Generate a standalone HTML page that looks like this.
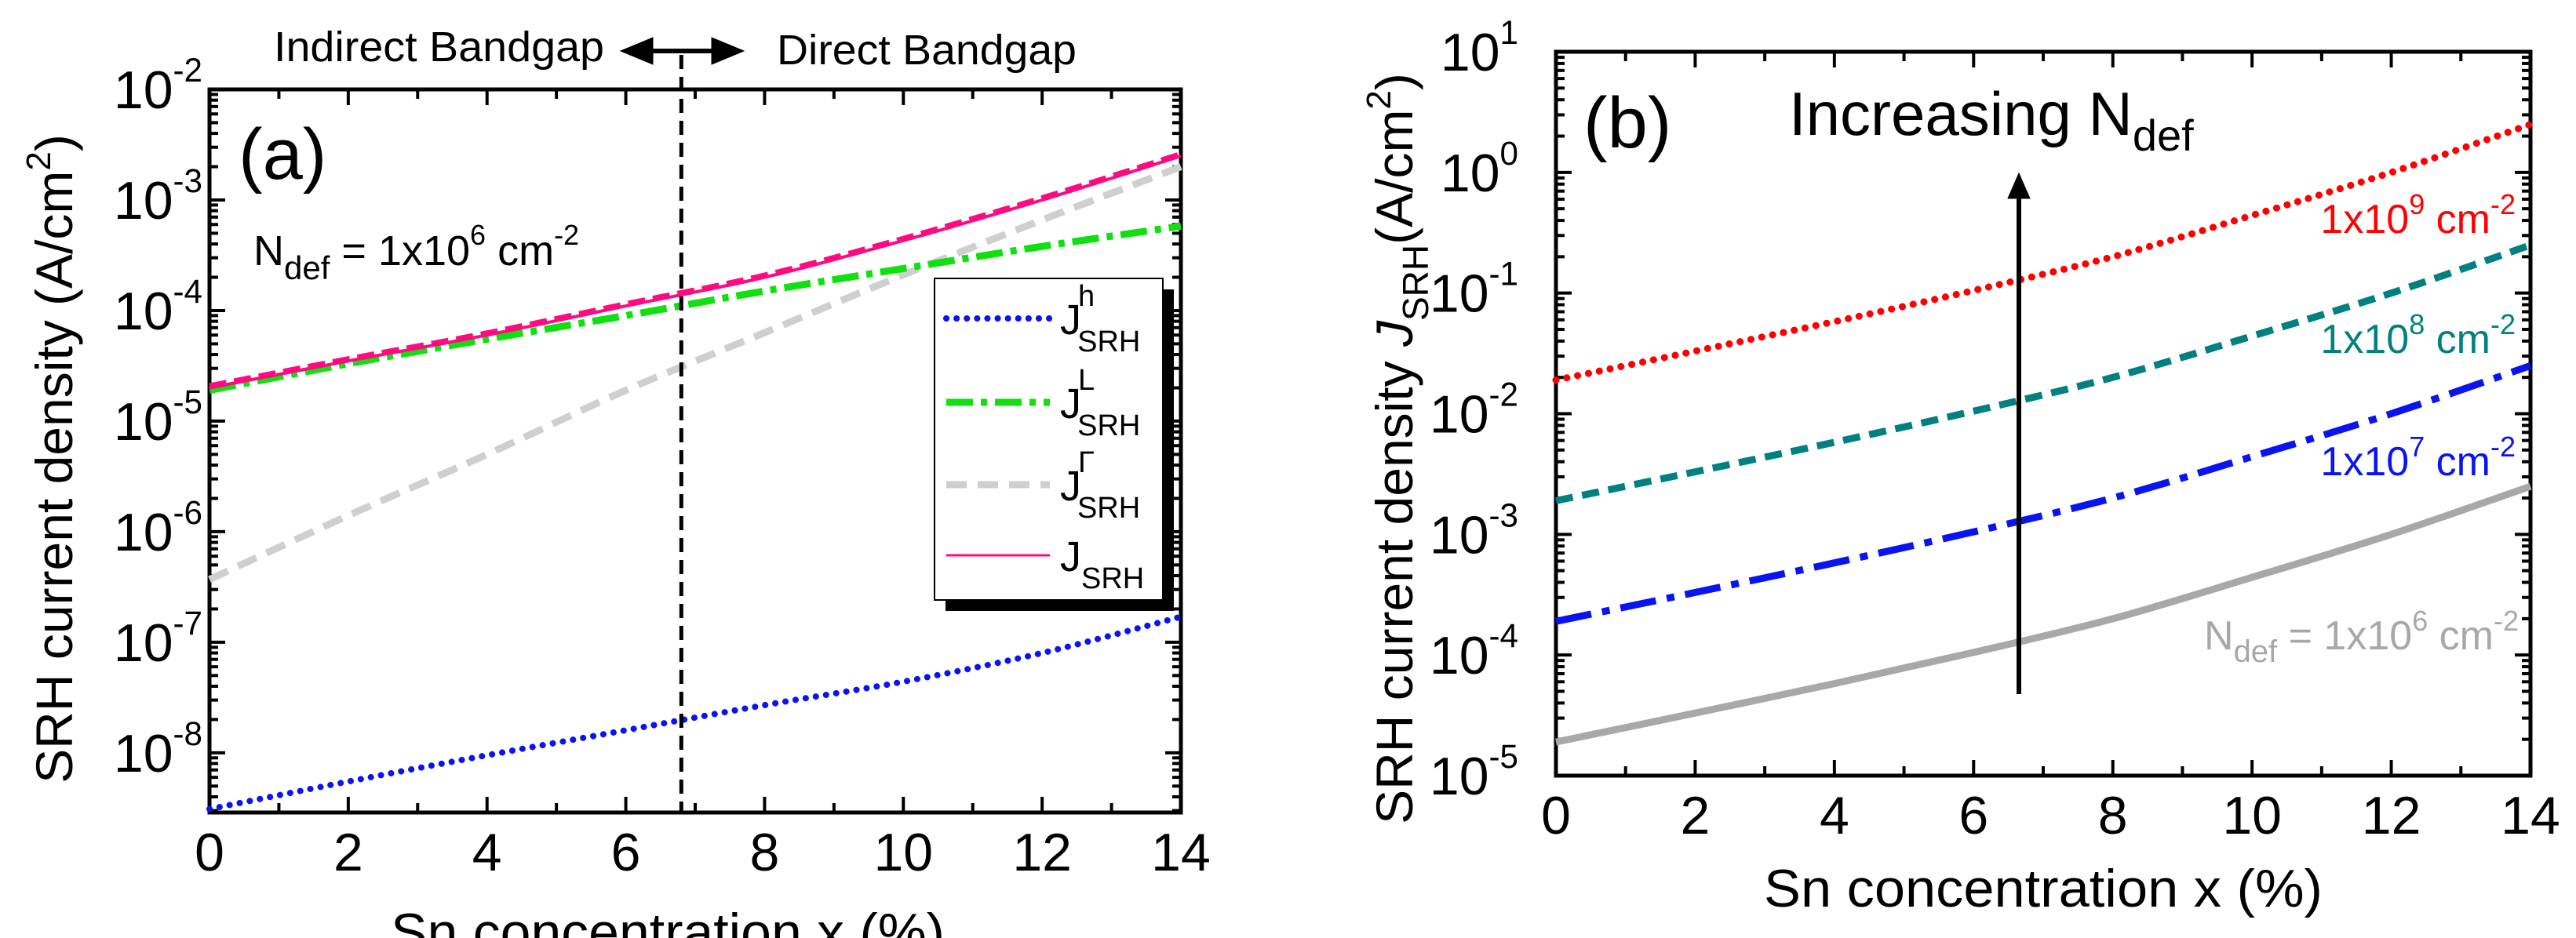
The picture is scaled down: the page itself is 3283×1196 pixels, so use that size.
<!DOCTYPE html>
<html><head><meta charset="utf-8"><style>
html,body{margin:0;padding:0;background:#fff;}
svg{display:block;font-family:"Liberation Sans",Arial,sans-serif;}
</style></head><body>
<svg id="fig" width="3283" height="1196" viewBox="0 0 3283 1196" xmlns="http://www.w3.org/2000/svg">
<g id="pa"></g>
<g id="pb"></g>
</svg>
<script>
// ---------- data ----------
const xCats = [0, 2, 4, 6, 8, 10, 12, 14];
const xTicks = [0, 2, 4, 6, 8, 10, 12, 14];
// panel a
const aJh = [3.1e-9, 5.5e-9, 9.5e-9, 1.6e-8, 2.7e-8, 4.4e-8, 8e-8, 1.7e-7];
const aJL = [1.9e-5, 3.3e-5, 5.5e-5, 9e-5, 1.5e-4, 2.4e-4, 3.8e-4, 5.8e-4];
const aJG = [3.7e-7, 1.4e-6, 5e-6, 1.9e-5, 6.3e-5, 2.1e-4, 6.6e-4, 2e-3];
const aJ = [2e-5, 3.5e-5, 6e-5, 1.1e-4, 2e-4, 4.3e-4, 1e-3, 2.5e-3];
const aYTickExp = [-2, -3, -4, -5, -6, -7, -8];
const aTransition = 6.8;
// panel b
const bN6 = [1.9e-5, 3.3e-5, 5.8e-5, 1.05e-4, 2e-4, 4.4e-4, 1e-3, 2.5e-3];
const bN7 = [1.9e-4, 3.3e-4, 5.8e-4, 1.05e-3, 2e-3, 4.4e-3, 1e-2, 2.5e-2];
const bN8 = [1.9e-3, 3.3e-3, 5.8e-3, 1.05e-2, 2e-2, 4.4e-2, 1e-1, 2.5e-1];
const bN9 = [1.9e-2, 3.3e-2, 5.8e-2, 1.05e-1, 2e-1, 4.4e-1, 1, 2.5];
const bYTickExp = [1, 0, -1, -2, -3, -4, -5];

const NS = "http://www.w3.org/2000/svg";
function mk(parent, tag, attrs, text) {
  const e = document.createElementNS(NS, tag);
  for (const k in attrs) e.setAttribute(k, attrs[k]);
  if (text !== undefined) e.textContent = text;
  parent.appendChild(e);
  return e;
}
function axes(L, R, T, B, xmin, xmax, lmin, lmax) {
  return {
    x: v => L + (v - xmin) / (xmax - xmin) * (R - L),
    y: v => T + (lmax - Math.log10(v)) / (lmax - lmin) * (B - T),
    L, R, T, B, lmin, lmax
  };
}
function smoothPath(ax, xs, ys) {
  const p = xs.map((x, i) => [ax.x(x), ax.y(ys[i])]);
  let d = "M" + p[0][0].toFixed(1) + "," + p[0][1].toFixed(1);
  for (let i = 0; i < p.length - 1; i++) {
    const p0 = p[Math.max(0, i - 1)], p1 = p[i], p2 = p[i + 1], p3 = p[Math.min(p.length - 1, i + 2)];
    const c1 = [p1[0] + (p2[0] - p0[0]) / 6, p1[1] + (p2[1] - p0[1]) / 6];
    const c2 = [p2[0] - (p3[0] - p1[0]) / 6, p2[1] - (p3[1] - p1[1]) / 6];
    d += " C" + c1.map(v => v.toFixed(1)).join(",") + " " + c2.map(v => v.toFixed(1)).join(",") + " " + p2.map(v => v.toFixed(1)).join(",");
  }
  return d;
}
function frame(g, ax, ytickExp, tickFont, yLabelRight) {
  // minor/major ticks
  const tg = mk(g, "g", {stroke: "#000", "stroke-width": 4});
  
  
  for (let v = 0; v <= 14; v++) {
    const x = ax.x(v), len = v % 2 === 0 ? 20 : 12;
    mk(tg, "line", {x1: x, x2: x, y1: ax.B, y2: ax.B - len});
    mk(tg, "line", {x1: x, x2: x, y1: ax.T, y2: ax.T + len});
  }
  for (let e = Math.floor(ax.lmin); e <= ax.lmax; e++) {
    for (let m = 1; m < 10; m++) {
      const v = m * Math.pow(10, e), lv = Math.log10(v);
      if (lv < ax.lmin - 1e-6 || lv > ax.lmax + 1e-6) continue;
      const y = ax.y(v), len = m === 1 ? 20 : 11;
      mk(tg, "line", {x1: ax.L, x2: ax.L + len, y1: y, y2: y});
      mk(tg, "line", {x1: ax.R, x2: ax.R - len, y1: y, y2: y});
    }
  }
  const fr = mk(g, "rect", {x: ax.L, y: ax.T, width: ax.R - ax.L, height: ax.B - ax.T, fill: "none", stroke: "#000", "stroke-width": 5});
  
  
  xTicks.forEach(v => {
    const t = mk(g, "text", {x: ax.x(v), y: ax.B + 74, "font-size": tickFont, "text-anchor": "middle"}, String(v));
    
    
  });
  ytickExp.forEach(e => {
    const y = ax.y(Math.pow(10, e));
    const t = mk(g, "text", {x: yLabelRight, y: y + 24, "font-size": tickFont, "text-anchor": "end"});
    
    
    mk(t, "tspan", {}, "10");
    mk(t, "tspan", {dy: -34, "font-size": tickFont * 0.62}, String(e));
  });
}

// ---------- panel a ----------
const ga = document.getElementById("pa");
const axA = axes(267, 1505, 114, 1036, 0, 14, -8.54, -2);
frame(ga, axA, aYTickExp, 68, 258);
const lineSpecs = [
  {d: aJG, name: "j-gamma-line", st: {stroke: "#cfcfcf", "stroke-width": 9, "stroke-dasharray": "26 14", fill: "none"}},
  {d: aJL, name: "j-l-line", st: {stroke: "#10e010", "stroke-width": 9, "stroke-dasharray": "34 10 8 10", fill: "none"}},
  {d: aJ, name: "j-total-line", st: {stroke: "#ff0a80", "stroke-width": 4, fill: "none"}},
  {d: aJ, name: "j-total-hatch", st: {stroke: "#ff0a80", "stroke-width": 8, "stroke-dasharray": "22 10", fill: "none", transform: "translate(0,-2)"}},
  {d: aJh, name: "j-h-line", st: {stroke: "#0a14f0", "stroke-width": 8, "stroke-dasharray": "0.1 13", "stroke-linecap": "round", fill: "none"}}
];
lineSpecs.forEach(s => {
  const p = mk(ga, "path", Object.assign({d: smoothPath(axA, xCats, s.d)}, s.st));
  
  
});
const vl = mk(ga, "line", {x1: axA.x(aTransition), x2: axA.x(aTransition), y1: 70, y2: axA.B, stroke: "#000", "stroke-width": 5, "stroke-dasharray": "18 10"});


// double arrow
const arr = mk(ga, "g", {fill: "#000", stroke: "#000"});


mk(arr, "line", {x1: 820, x2: 920, y1: 65, y2: 65, "stroke-width": 6});
mk(arr, "polygon", {points: "791,65 832,48 832,82"});
mk(arr, "polygon", {points: "948,65 907,48 907,82"});
let t;
t = mk(ga, "text", {x: 349, y: 78, "font-size": 54, textLength: 421, lengthAdjust: "spacingAndGlyphs"}, "Indirect Bandgap");
 
t = mk(ga, "text", {x: 990, y: 82, "font-size": 54, textLength: 382, lengthAdjust: "spacingAndGlyphs"}, "Direct Bandgap");
 
t = mk(ga, "text", {x: 304, y: 228, "font-size": 92}, "(a)");
 
t = mk(ga, "text", {x: 323, y: 338, "font-size": 54});
 
mk(t, "tspan", {}, "N");
mk(t, "tspan", {dy: 18, "font-size": 42}, "def");
mk(t, "tspan", {dy: -18}, " = 1x10");
mk(t, "tspan", {dy: -26, "font-size": 36}, "6");
mk(t, "tspan", {dy: 26}, " cm");
mk(t, "tspan", {dy: -26, "font-size": 36}, "-2");
t = mk(ga, "text", {transform: "translate(92,585) rotate(-90)", "font-size": 66, "text-anchor": "middle"});
 
mk(t, "tspan", {}, "SRH current density (A/cm");
mk(t, "tspan", {dy: -28, "font-size": 44}, "2");
mk(t, "tspan", {dy: 28}, ")");
t = mk(ga, "text", {x: 851, y: 1212, "font-size": 68, "text-anchor": "middle", textLength: 706, lengthAdjust: "spacingAndGlyphs"}, "Sn concentration x (%)");
 
// legend
const lg = mk(ga, "g", {});


mk(lg, "rect", {x: 1205, y: 369, width: 291, height: 410, fill: "#000"});
mk(lg, "rect", {x: 1191, y: 355, width: 291, height: 410, fill: "#fff", stroke: "#000", "stroke-width": 2});
const legItems = [
  {y: 406, sup: "h", st: {stroke: "#0a14f0", "stroke-width": 8, "stroke-dasharray": "0.1 13", "stroke-linecap": "round"}, name: "legend-entry-jh"},
  {y: 513, sup: "L", st: {stroke: "#10e010", "stroke-width": 9, "stroke-dasharray": "34 10 8 10"}, name: "legend-entry-jl"},
  {y: 618, sup: "Γ", st: {stroke: "#cfcfcf", "stroke-width": 9, "stroke-dasharray": "26 14"}, name: "legend-entry-jgamma"},
  {y: 708, sup: "", st: {stroke: "#ff0a80", "stroke-width": 3}, name: "legend-entry-jtotal"}
];
legItems.forEach(it => {
  const g = mk(lg, "g", {});
  
  
  mk(g, "line", Object.assign({x1: 1206, x2: 1338, y1: it.y, y2: it.y}, it.st));
  const tx = mk(g, "text", {x: 1351, y: it.y + 20, "font-size": 54});
  mk(tx, "tspan", {}, "J");
  if (it.sup) {
    mk(tx, "tspan", {dy: -36, dx: -4, "font-size": 38}, it.sup);
    mk(tx, "tspan", {dy: 58, dx: -22, "font-size": 38}, "SRH");
  } else {
    mk(tx, "tspan", {dy: 22, "font-size": 38}, "SRH");
  }
});

// ---------- panel b ----------
const gb = document.getElementById("pb");
const axB = axes(1983, 3225, 66, 989, 0, 14, -5, 1);
frame(gb, axB, bYTickExp, 68, 1935);
const bSpecs = [
  {d: bN6, name: "ndef-1e6-line", st: {stroke: "#a8a8a8", "stroke-width": 9, fill: "none"}},
  {d: bN7, name: "ndef-1e7-line", st: {stroke: "#0a14f0", "stroke-width": 9, "stroke-dasharray": "46 14 10 14", fill: "none"}},
  {d: bN8, name: "ndef-1e8-line", st: {stroke: "#008080", "stroke-width": 9, "stroke-dasharray": "22 12", fill: "none"}},
  {d: bN9, name: "ndef-1e9-line", st: {stroke: "#ff0000", "stroke-width": 9, "stroke-dasharray": "0.1 14", "stroke-linecap": "round", fill: "none"}}
];
bSpecs.forEach(s => {
  const p = mk(gb, "path", Object.assign({d: smoothPath(axB, xCats, s.d)}, s.st));
  
  
});
const ar2 = mk(gb, "g", {fill: "#000", stroke: "#000"});


mk(ar2, "line", {x1: 2573, x2: 2573, y1: 885, y2: 245, "stroke-width": 6});
mk(ar2, "polygon", {points: "2573,221 2559,253 2587,253"});
t = mk(gb, "text", {x: 2018, y: 188, "font-size": 92}, "(b)");
 
t = mk(gb, "text", {x: 2280, y: 172, "font-size": 78});
 
mk(t, "tspan", {}, "Increasing N");
mk(t, "tspan", {dy: 20, "font-size": 56}, "def");
const bLabels = [
  {y: 297, e: "9", c: "#ff0000", name: "label-1e9"},
  {y: 450, e: "8", c: "#008080", name: "label-1e8"},
  {y: 606, e: "7", c: "#0a14f0", name: "label-1e7"}
];
bLabels.forEach(l => {
  const tx = mk(gb, "text", {x: 3206, y: l.y, "font-size": 52, fill: l.c, "text-anchor": "end"});
  
  
  mk(tx, "tspan", {}, "1x10");
  mk(tx, "tspan", {dy: -24, "font-size": 36}, l.e);
  mk(tx, "tspan", {dy: 24}, " cm");
  mk(tx, "tspan", {dy: -24, "font-size": 36}, "-2");
});
t = mk(gb, "text", {x: 2809, y: 828, "font-size": 52, fill: "#a8a8a8"});
 
mk(t, "tspan", {}, "N");
mk(t, "tspan", {dy: 16, "font-size": 40}, "def");
mk(t, "tspan", {dy: -16}, " = 1x10");
mk(t, "tspan", {dy: -24, "font-size": 36}, "6");
mk(t, "tspan", {dy: 24}, " cm");
mk(t, "tspan", {dy: -24, "font-size": 36}, "-2");
t = mk(gb, "text", {transform: "translate(1800,572) rotate(-90)", "font-size": 66, "text-anchor": "middle"});
 
mk(t, "tspan", {}, "SRH current density ");
mk(t, "tspan", {"font-style": "italic"}, "J");
mk(t, "tspan", {dy: 20, "font-size": 46}, "SRH");
mk(t, "tspan", {dy: -20}, "(A/cm");
mk(t, "tspan", {dy: -28, "font-size": 44}, "2");
mk(t, "tspan", {dy: 28}, ")");
t = mk(gb, "text", {x: 2604, y: 1156, "font-size": 68, "text-anchor": "middle", textLength: 712, lengthAdjust: "spacingAndGlyphs"}, "Sn concentration x (%)");
 
</script>
</body></html>
